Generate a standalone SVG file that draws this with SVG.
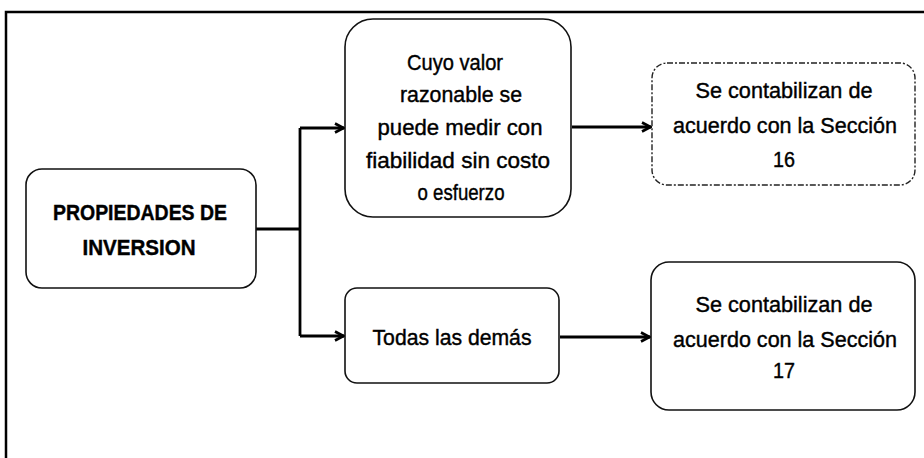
<svg xmlns="http://www.w3.org/2000/svg" width="924" height="458" viewBox="0 0 924 458">
<defs>
<marker id="arr" viewBox="0 0 12 12" refX="11" refY="6" markerWidth="12" markerHeight="12" orient="auto" markerUnits="userSpaceOnUse">
<path d="M2,1.5 L10.5,6 L2,10.5" fill="none" stroke="#000" stroke-width="2.6" stroke-linejoin="miter"/>
</marker>
<style>
.box{fill:#fff;stroke:#111;stroke-width:1.6}
.dash{fill:#fff;stroke:#222;stroke-width:1.4;stroke-dasharray:6 2 2 2}
.t{font-family:"Liberation Sans",Arial,sans-serif;font-size:22px;fill:#000;stroke:#000;stroke-width:0.4;text-anchor:middle}
.b{font-weight:bold}
.c{fill:none;stroke:#000;stroke-width:2.8}
</style>
</defs>
<rect width="924" height="458" fill="#fff"/>
<path d="M6,458 V12 H924" fill="none" stroke="#000" stroke-width="2.5"/>
<g id="connectors">
<path class="c" d="M256,229 H300"/>
<path class="c" d="M300,128 V336"/>
<path class="c" d="M300,128 H344" marker-end="url(#arr)"/>
<path class="c" d="M300,336 H344" marker-end="url(#arr)"/>
<path class="c" d="M572,127 H651" marker-end="url(#arr)"/>
<path class="c" d="M560,337 H650" marker-end="url(#arr)"/>
</g>
<g id="n1">
<rect class="box" x="26" y="169" width="230" height="119" rx="16"/>
<text class="t b" x="140" y="220" textLength="174" lengthAdjust="spacingAndGlyphs">PROPIEDADES DE</text>
<text class="t b" x="139" y="255" textLength="113" lengthAdjust="spacingAndGlyphs">INVERSION</text>
</g>
<g id="n2">
<rect class="box" x="345" y="19" width="226" height="198" rx="28"/>
<text class="t" x="455" y="70" textLength="96" lengthAdjust="spacingAndGlyphs">Cuyo valor</text>
<text class="t" x="461" y="102" textLength="122" lengthAdjust="spacingAndGlyphs">razonable se</text>
<text class="t" x="460" y="135" textLength="165" lengthAdjust="spacingAndGlyphs">puede medir con</text>
<text class="t" x="458" y="168" textLength="184" lengthAdjust="spacingAndGlyphs">fiabilidad sin costo</text>
<text class="t" x="461" y="200" textLength="87" lengthAdjust="spacingAndGlyphs">o esfuerzo</text>
</g>
<g id="n3">
<rect class="dash" x="652" y="63" width="263" height="122" rx="15"/>
<text class="t" x="784" y="98" textLength="177" lengthAdjust="spacingAndGlyphs">Se contabilizan de</text>
<text class="t" x="785" y="133" textLength="224" lengthAdjust="spacingAndGlyphs">acuerdo con la Sección</text>
<text class="t" x="784" y="167" textLength="22" lengthAdjust="spacingAndGlyphs">16</text>
</g>
<g id="n4">
<rect class="box" x="345" y="288" width="214" height="95" rx="12"/>
<text class="t" x="452" y="345" textLength="159" lengthAdjust="spacingAndGlyphs">Todas las demás</text>
</g>
<g id="n5">
<rect class="box" x="651" y="262" width="264" height="148" rx="18"/>
<text class="t" x="784" y="312" textLength="177" lengthAdjust="spacingAndGlyphs">Se contabilizan de</text>
<text class="t" x="785" y="347" textLength="224" lengthAdjust="spacingAndGlyphs">acuerdo con la Sección</text>
<text class="t" x="784" y="378" textLength="22" lengthAdjust="spacingAndGlyphs">17</text>
</g>
</svg>
